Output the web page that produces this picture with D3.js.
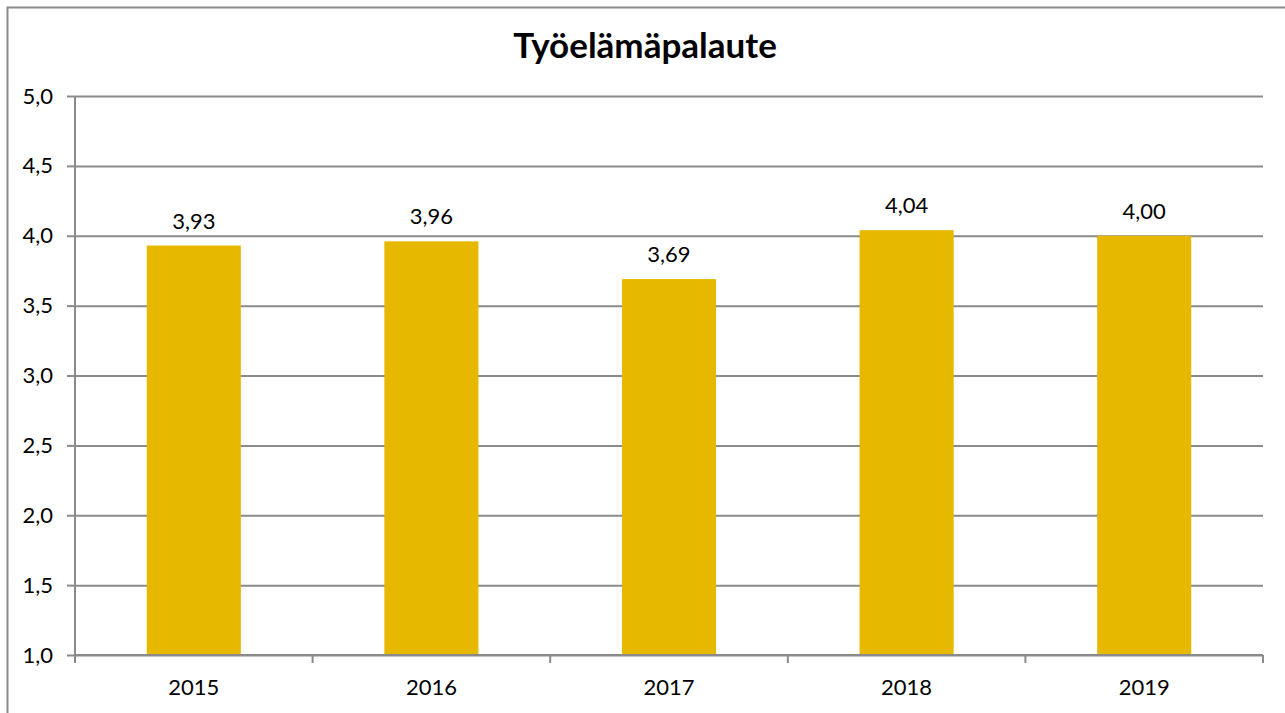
<!DOCTYPE html>
<html>
<head>
<meta charset="utf-8">
<script src="https://cdn.jsdelivr.net/npm/d3@7"></script>
<style>
  body { margin: 0; background: #fff; }
  text { font-family: Lato, "Open Sans", sans-serif; fill: #000; }
</style>
</head>
<body>
<div id="chart"></div>
<script>
const years = ["2015", "2016", "2017", "2018", "2019"]
const values = [3.93, 3.96, 3.69, 4.04, 4.00]
const yTicks = [1.0, 1.5, 2.0, 2.5, 3.0, 3.5, 4.0, 4.5, 5.0]
const title = "Työelämäpalaute"

const width = 1285, height = 713
const margin = { top: 96, right: 22, bottom: 58, left: 75 }
const fmt = v => v.toFixed(2).replace(".", ",")

const svg = d3.select("#chart").append("svg")
    .attr("width", width)
    .attr("height", height)

// outer chart border
svg.append("rect")
    .attr("x", 7.5).attr("y", 7.5)
    .attr("width", width + 20).attr("height", height + 20)
    .attr("fill", "none")
    .attr("stroke", "#8a8a8a")
    .attr("stroke-width", 2)

const x = d3.scaleBand()
    .domain(years)
    .range([margin.left, width - margin.right])
    .paddingInner(0.604)
    .paddingOuter(0.302)

const y = d3.scaleLinear()
    .domain([1, 5])
    .range([height - margin.bottom, margin.top])

// gridlines + y axis
svg.append("g")
    .attr("transform", `translate(${margin.left},0)`)
    .call(d3.axisLeft(y).tickValues(yTicks).tickFormat(d => d.toFixed(1).replace(".", ","))
        .tickSize(8).tickPadding(14))
    .call(g => g.select(".domain").attr("stroke", "#8a8a8a").attr("stroke-width", 2)
        .attr("d", `M0,${y(5)}V${y(1)}`))
    .call(g => g.selectAll(".tick line").attr("stroke", "#8a8a8a").attr("stroke-width", 2))
    .call(g => g.selectAll(".tick").append("line")
        .attr("x2", width - margin.right - margin.left)
        .attr("stroke", "#8a8a8a").attr("stroke-width", 2))
    .call(g => g.selectAll(".tick text").attr("font-size", 22).attr("fill", "#000")
        .style("font-family", "Lato, sans-serif"))

// bars
svg.append("g")
    .attr("fill", "#e6b900")
    .selectAll("rect")
    .data(values)
    .join("rect")
    .attr("x", (d, i) => x(years[i]))
    .attr("y", d => y(d))
    .attr("width", x.bandwidth())
    .attr("height", d => y(1) - y(d))

// x axis
const step = x.step()
svg.append("g")
    .attr("transform", `translate(0,${height - margin.bottom})`)
    .call(d3.axisBottom(x).tickSize(0).tickPadding(24))
    .call(g => g.select(".domain").attr("stroke", "#8a8a8a").attr("stroke-width", 2)
        .attr("d", `M${margin.left},0H${width - margin.right}`))
    .call(g => g.selectAll(".tick text").attr("font-size", 22).attr("fill", "#000")
        .style("font-family", "Lato, sans-serif"))
    .call(g => g.selectAll(".sep")
        .data(d3.range(years.length + 1))
        .join("line")
        .attr("x1", i => margin.left + i * step)
        .attr("x2", i => margin.left + i * step)
        .attr("y1", 0).attr("y2", 8)
        .attr("stroke", "#8a8a8a").attr("stroke-width", 2))

// value labels
svg.append("g")
    .selectAll("text")
    .data(values)
    .join("text")
    .attr("x", (d, i) => x(years[i]) + x.bandwidth() / 2)
    .attr("y", d => y(d) - 17)
    .attr("text-anchor", "middle")
    .attr("font-size", 22)
    .text(fmt)

// title
svg.append("text")
    .attr("x", 645)
    .attr("y", 58)
    .attr("text-anchor", "middle")
    .attr("font-size", 35)
    .attr("font-weight", "bold")
    .text(title)
</script>
</body>
</html>
